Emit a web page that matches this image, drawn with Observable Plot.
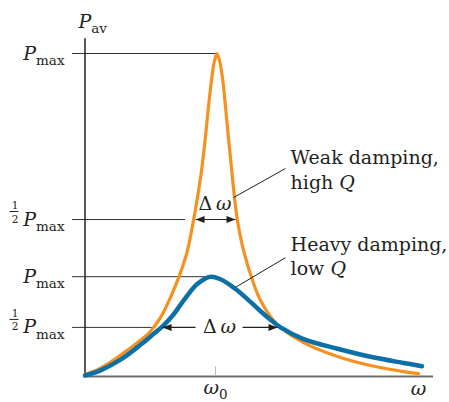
<!DOCTYPE html>
<html><head><meta charset="utf-8">
<script src="https://cdn.jsdelivr.net/npm/d3@7"></script>
<script src="https://cdn.jsdelivr.net/npm/@observablehq/plot@0.6"></script>
<style>
html,body{margin:0;padding:0;background:#fff;}
#chart svg{display:block;}
#chart svg text, #chart svg tspan{font-family:"DejaVu Serif","Liberation Serif",serif !important;}
</style></head><body><div id="chart"></div>
<script>
// ω in units of ω0, P in units of the weak-damping Pmax
const weakOmega = [0, 0.119, 0.272, 0.425, 0.502, 0.579, 0.655, 0.724, 0.785, 0.831, 0.858, 0.893, 0.920, 0.943, 0.969, 0.989, 1.011,
  1.034, 1.056, 1.079, 1.101, 1.124, 1.148, 1.168, 1.215, 1.284, 1.345, 1.444, 1.498, 1.674, 1.935, 2.188, 2.441, 2.556];
const weakPower = [0.006, 0.026, 0.066, 0.112, 0.140, 0.183, 0.245, 0.313, 0.390, 0.483, 0.545, 0.638, 0.731, 0.824, 0.916, 0.972, 1.000,
  0.972, 0.916, 0.824, 0.731, 0.638, 0.545, 0.483, 0.390, 0.297, 0.235, 0.173, 0.152, 0.105, 0.062, 0.034, 0.015, 0.009];
const heavyOmega = [0, 0.119, 0.272, 0.425, 0.502, 0.602, 0.678, 0.755, 0.862, 0.962, 1.038, 1.153, 1.268, 1.345, 1.421, 1.498, 1.674, 1.935, 2.188, 2.441, 2.582];
const heavyPower = [0.003, 0.019, 0.052, 0.098, 0.124, 0.158, 0.192, 0.235, 0.287, 0.309, 0.301, 0.271, 0.231, 0.202, 0.176, 0.152, 0.116, 0.086, 0.061, 0.042, 0.032];

const tickPower = [1, 0.486, 0.309, 0.152];
const tickLabels = ["*P|_max", "*P|_max", "*P|_max", "*P|_max"];
const guideEnd = [1.011, 0.770, 0.946, 0.517];
const halfTicks = [0.486, 0.152];

const omegaMax = 2.67;
const powerTop = 1.046;
const omegaTicks = [1];
const omegaTickLabels = ["*ω|_0"];
const axisEndLabel = ["*ω"];
const axisTopLabel = ["*P|_av"];

const spanStart = [0.847, 0.594, 1.207];
const spanEnd = [1.153, 0.847, 1.475];
const spanPower = [0.486, 0.152, 0.152];
const headLeftOmega = [0.847, 0.594];
const headLeftPower = [0.486, 0.152];
const headRightOmega = [1.153, 1.475];
const headRightPower = [0.486, 0.152];
const deltaOmega = [0.996, 1.031];
const deltaPower = [0.514, 0.136];
const deltaLabels = ["Δ\u2009|*ω", "Δ\u2009|*ω"];

const leaderFromOmega = [1.138, 1.153];
const leaderFromPower = [0.554, 0.276];
const leaderToOmega = [1.536, 1.536];
const leaderToPower = [0.644, 0.368];

const noteOmega = [1.575, 1.575, 1.575, 1.575];
const notePower = [0.659, 0.582, 0.387, 0.313];
const noteText = ["Weak damping,", "high |*Q", "Heavy damping,", "low |*Q"];

const ink = "#231f20";
const orange = "#f5911f";
const blue = "#0c6fa6";
const serif = "'DejaVu Serif', 'Liberation Serif', serif";
const W = 449, H = 402, mL = 84.5, mR = 16, mT = 53, mB = 26;
const tickLen = 10 / (H - mB - mT);
const mainSize = 19, subSize = 13.5;

const headRightSym = {draw(ctx) { ctx.moveTo(0, 0); ctx.lineTo(-9, -3.5); ctx.lineTo(-9, 3.5); ctx.closePath(); }};
const headLeftSym = {draw(ctx) { ctx.moveTo(0, 0); ctx.lineTo(9, -3.5); ctx.lineTo(9, 3.5); ctx.closePath(); }};

const T = {fontFamily: serif, fill: ink, lineAnchor: "bottom"};

const chart = Plot.plot({
  width: W, height: H,
  marginLeft: mL, marginRight: mR, marginTop: mT, marginBottom: mB,
  x: {domain: [0, omegaMax], axis: null},
  y: {domain: [0, 1], axis: null},
  style: {fontFamily: serif, fontSize: mainSize + "px", color: ink, background: "#fff", overflow: "visible"},
  marks: [
    Plot.ruleY(tickPower, {y: d => d, x1: 0, x2: guideEnd, insetLeft: -12.5, stroke: "#333", strokeWidth: 1}),
    Plot.ruleX([0], {y1: 0, y2: powerTop, stroke: ink, strokeWidth: 1.5}),
    Plot.ruleY([0], {x1: 0, x2: omegaMax, stroke: "#6d6e71", strokeWidth: 2}),
    Plot.ruleX(omegaTicks, {x: d => d, y1: 0, y2: tickLen, stroke: "#bdbdbd", strokeWidth: 1}),
    Plot.line(weakOmega, {x: weakOmega, y: weakPower, curve: "catmull-rom", stroke: orange, strokeWidth: 3.2}),
    Plot.line(heavyOmega, {x: heavyOmega, y: heavyPower, curve: "catmull-rom", stroke: blue, strokeWidth: 4.5}),
    Plot.link(spanPower, {x1: spanStart, x2: spanEnd, y1: spanPower, y2: spanPower, stroke: ink, strokeWidth: 1.1}),
    Plot.dot(headLeftOmega, {x: headLeftOmega, y: headLeftPower, symbol: headLeftSym, r: 4, fill: ink}),
    Plot.dot(headRightOmega, {x: headRightOmega, y: headRightPower, symbol: headRightSym, r: 4, fill: ink}),
    Plot.link(leaderFromOmega, {x1: leaderFromOmega, y1: leaderFromPower, x2: leaderToOmega, y2: leaderToPower, stroke: ink, strokeWidth: 1}),
    // fraction bar of the ½ labels
    Plot.ruleY(halfTicks, {y: d => d, x1: 0, x2: 0, insetLeft: -75, insetRight: 66, dy: -8, stroke: ink, strokeWidth: 1}),
    // y tick labels
    Plot.text(tickPower, {...T, y: d => d, text: tickLabels, frameAnchor: "left", textAnchor: "end", dx: -20.5, dy: 6, fontSize: mainSize}),
    Plot.text(halfTicks, {...T, y: d => d, text: ["1", "1"], frameAnchor: "left", textAnchor: "middle", dx: -70, dy: -10.5, fontSize: 10.5}),
    Plot.text(halfTicks, {...T, y: d => d, text: ["2", "2"], frameAnchor: "left", textAnchor: "middle", dx: -70, dy: 3, fontSize: 10.5}),
    Plot.text(axisTopLabel, {...T, text: d => d, frameAnchor: "top-left", textAnchor: "start", dx: -6.5, dy: -26, fontSize: mainSize}),
    Plot.text(omegaTicks, {...T, x: d => d, text: omegaTickLabels, frameAnchor: "bottom", textAnchor: "start", dx: -12, dy: 17, fontSize: mainSize}),
    Plot.text([omegaMax], {...T, x: d => d, text: axisEndLabel, frameAnchor: "bottom", textAnchor: "middle", dx: -15, dy: 18, fontSize: mainSize}),
    Plot.text(deltaOmega, {...T, x: deltaOmega, y: deltaPower, text: deltaLabels, textAnchor: "middle", fontSize: mainSize}),
    Plot.text(noteOmega, {...T, x: noteOmega, y: notePower, text: noteText, textAnchor: "start", fontSize: mainSize})
  ]
});

// rich text: "*" italic segment, "_" subscript segment, segments split by "|"
d3.select(chart).selectAll("text").each(function () {
  const raw = this.textContent;
  if (!raw.includes("|") && !raw.startsWith("*")) return;
  const el = d3.select(this);
  this.textContent = "";
  for (const p of raw.split("|")) {
    const ts = el.append("tspan");
    if (p.startsWith("*")) ts.attr("font-style", "italic").text(p.slice(1));
    else if (p.startsWith("_")) ts.attr("font-size", subSize).attr("dy", 5.5).text(p.slice(1));
    else ts.text(p);
  }
});

document.getElementById("chart").appendChild(chart);
</script>
</body></html>
